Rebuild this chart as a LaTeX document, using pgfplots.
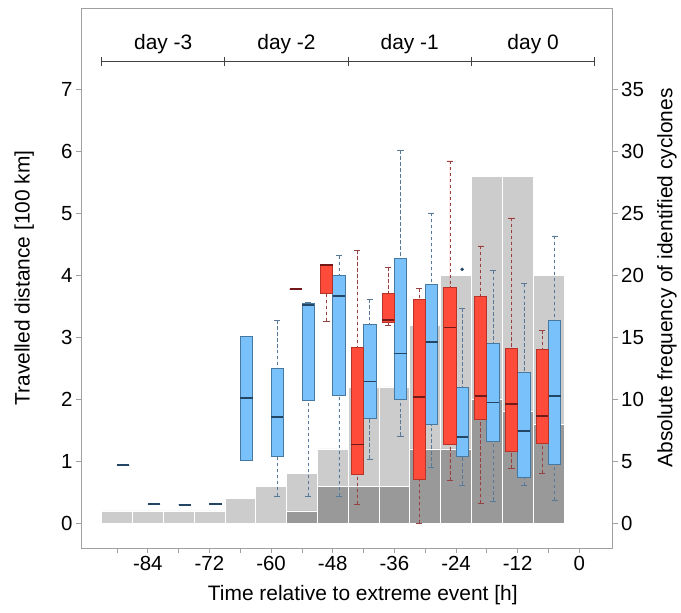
\documentclass[border=0pt]{standalone}
\usepackage{pgfplots}
\pgfplotsset{compat=1.18}
\usepgfplotslibrary{statistics}
\usepackage{fontspec}
\setmainfont{Liberation Sans}

\definecolor{redF}{RGB}{255,75,58}
\definecolor{redE}{RGB}{185,50,40}
\definecolor{redM}{RGB}{115,25,25}
\definecolor{redW}{RGB}{150,65,65}
\definecolor{blueF}{RGB}{120,193,250}
\definecolor{blueE}{RGB}{70,120,160}
\definecolor{blueM}{RGB}{35,70,100}
\definecolor{blueW}{RGB}{90,120,150}
\definecolor{histL}{RGB}{204,204,204}
\definecolor{histD}{RGB}{153,153,153}
\definecolor{frameC}{RGB}{160,160,160}

\pgfplotsset{
  base/.style={
    width=531.7bp, height=540bp, scale only axis,
    xmin=-97, xmax=6.5,
    axis line style={frameC, line width=0.7pt},
    tick style={frameC, line width=0.7pt},
    major tick length=5bp, minor tick length=5bp,
    tick align=outside,
    ticklabel style={font=\fontsize{20.5}{24}\selectfont},
    label style={font=\fontsize{21}{24}\selectfont},
    /pgf/number format/assume math mode=true,
  },
  boxplot/draw/lower whisker/.code={%
    \draw[/pgfplots/boxplot/every whisker/.try]
      (boxplot box cs:\pgfplotsboxplotvalue{lower whisker},0.5) --
      (boxplot box cs:\pgfplotsboxplotvalue{lower quartile},0.5);
    \draw[/pgfplots/boxplot/every whisker/.try, solid]
      (boxplot whisker cs:\pgfplotsboxplotvalue{lower whisker},0) --
      (boxplot whisker cs:\pgfplotsboxplotvalue{lower whisker},1);
  },
  boxplot/draw/upper whisker/.code={%
    \draw[/pgfplots/boxplot/every whisker/.try]
      (boxplot box cs:\pgfplotsboxplotvalue{upper whisker},0.5) --
      (boxplot box cs:\pgfplotsboxplotvalue{upper quartile},0.5);
    \draw[/pgfplots/boxplot/every whisker/.try, solid]
      (boxplot whisker cs:\pgfplotsboxplotvalue{upper whisker},0) --
      (boxplot whisker cs:\pgfplotsboxplotvalue{upper whisker},1);
  },
  rbox/.style={draw=redE, fill=redF, line width=0.7pt,
    boxplot/draw direction=y, boxplot/box extend=2.4, boxplot/whisker extend=1.2,
    boxplot/every whisker/.style={draw=redW, dash pattern=on 3.5pt off 2.5pt, line width=0.6pt},
    boxplot/every median/.style={draw=redM, line width=1.8pt}},
  bbox/.style={draw=blueE, fill=blueF, line width=0.7pt,
    boxplot/draw direction=y, boxplot/box extend=2.4, boxplot/whisker extend=1.2,
    boxplot/every whisker/.style={draw=blueW, dash pattern=on 3.5pt off 2.5pt, line width=0.6pt},
    boxplot/every median/.style={draw=blueM, line width=1.8pt}},
}

\begin{document}
\begin{tikzpicture}
% histogram of cyclone counts (right axis)
\begin{axis}[base, name=ax,
  ymin=-2, ymax=41.6,
  ytick={0,5,...,35},
  ytick pos=right, yticklabel pos=right,
  ylabel={Absolute frequency of identified cyclones},
  ylabel style={font=\fontsize{21}{24}\selectfont, at={(axis description cs:1.102,0.5)}, anchor=center, rotate=0},
  xtick={-84,-72,...,0}, minor xtick={-90,-78,...,-6},
  xtick pos=bottom,
  xlabel={Time relative to extreme event [h]},
  xlabel style={at={(axis description cs:0.53,-0.087)}, anchor=center},
]
\addplot[ybar, bar width=6, bar shift=0, fill=histL, draw=white, line width=0.6pt] coordinates {
  (-90,1)(-84,1)(-78,1)(-72,1)(-66,2)(-60,3)(-54,4)(-48,6)
  (-42,11)(-36,11)(-30,16)(-24,20)(-18,28)(-12,28)(-6,20)};
\addplot[ybar, bar width=6, bar shift=0, fill=histD, draw=white, line width=0.6pt] coordinates {
  (-54,1)(-48,3)(-42,3)(-36,3)(-30,6)(-24,6)(-18,10)(-12,9)(-6,8)};
\end{axis}

% travelled distance box plots (left axis)
\begin{axis}[base,
  ymin=-0.4, ymax=8.32,
  ytick={0,...,7}, ytick pos=left,
  xtick=\empty,
  ylabel={Travelled distance [100 km]},
  ylabel style={at={(axis description cs:-0.107,0.5)}, anchor=center},
  clip=false,
]
% blue
\addplot[bbox, boxplot prepared={draw position=-88.8, lower whisker=0.94, lower quartile=0.94, median=0.94, upper quartile=0.94, upper whisker=0.94}] coordinates {};
\addplot[bbox, boxplot prepared={draw position=-82.8, lower whisker=0.31, lower quartile=0.31, median=0.31, upper quartile=0.31, upper whisker=0.31}] coordinates {};
\addplot[bbox, boxplot prepared={draw position=-76.8, lower whisker=0.30, lower quartile=0.30, median=0.30, upper quartile=0.30, upper whisker=0.30}] coordinates {};
\addplot[bbox, boxplot prepared={draw position=-70.8, lower whisker=0.31, lower quartile=0.31, median=0.31, upper quartile=0.31, upper whisker=0.31}] coordinates {};
\addplot[bbox, boxplot prepared={draw position=-64.8, lower whisker=1.02, lower quartile=1.02, median=2.02, upper quartile=3.02, upper whisker=3.02}] coordinates {};
\addplot[bbox, boxplot prepared={draw position=-58.8, lower whisker=0.44, lower quartile=1.08, median=1.72, upper quartile=2.50, upper whisker=3.28}] coordinates {};
\addplot[bbox, boxplot prepared={draw position=-52.8, lower whisker=0.44, lower quartile=1.99, median=3.52, upper quartile=3.55, upper whisker=3.56}] coordinates {};
\addplot[bbox, boxplot prepared={draw position=-46.8, lower whisker=0.44, lower quartile=2.06, median=3.67, upper quartile=4.00, upper whisker=4.32}] coordinates {};
\addplot[bbox, boxplot prepared={draw position=-40.8, lower whisker=1.04, lower quartile=1.69, median=2.29, upper quartile=3.21, upper whisker=3.62}] coordinates {};
\addplot[bbox, boxplot prepared={draw position=-34.8, lower whisker=1.41, lower quartile=2.00, median=2.74, upper quartile=4.28, upper whisker=6.02}] coordinates {};
\addplot[bbox, boxplot prepared={draw position=-28.8, lower whisker=0.91, lower quartile=1.59, median=2.93, upper quartile=3.85, upper whisker=5.01}] coordinates {};
\addplot[bbox, boxplot prepared={draw position=-22.8, lower whisker=0.62, lower quartile=1.08, median=1.39, upper quartile=2.19, upper whisker=3.47}] coordinates {};
\addplot[bbox, boxplot prepared={draw position=-16.8, lower whisker=0.36, lower quartile=1.33, median=1.95, upper quartile=2.91, upper whisker=4.08}] coordinates {};
\addplot[bbox, boxplot prepared={draw position=-10.8, lower whisker=0.61, lower quartile=0.74, median=1.49, upper quartile=2.44, upper whisker=3.87}] coordinates {};
\addplot[bbox, boxplot prepared={draw position=-4.8, lower whisker=0.37, lower quartile=0.95, median=2.05, upper quartile=3.28, upper whisker=4.64}] coordinates {};
\addplot[only marks, mark=*, mark size=1.6pt, blueM] coordinates {(-22.8,4.10)};
% red
\addplot[rbox, boxplot prepared={draw position=-55.2, lower whisker=3.78, lower quartile=3.78, median=3.78, upper quartile=3.78, upper whisker=3.78}] coordinates {};
\addplot[rbox, boxplot prepared={draw position=-49.2, lower whisker=3.26, lower quartile=3.71, median=4.17, upper quartile=4.17, upper whisker=4.18}] coordinates {};
\addplot[rbox, boxplot prepared={draw position=-43.2, lower whisker=0.31, lower quartile=0.79, median=1.27, upper quartile=2.84, upper whisker=4.41}] coordinates {};
\addplot[rbox, boxplot prepared={draw position=-37.2, lower whisker=3.20, lower quartile=3.24, median=3.28, upper quartile=3.71, upper whisker=4.13}] coordinates {};
\addplot[rbox, boxplot prepared={draw position=-31.2, lower whisker=0.00, lower quartile=0.71, median=2.04, upper quartile=3.62, upper whisker=3.79}] coordinates {};
\addplot[rbox, boxplot prepared={draw position=-25.2, lower whisker=0.69, lower quartile=1.28, median=3.16, upper quartile=3.81, upper whisker=5.85}] coordinates {};
\addplot[rbox, boxplot prepared={draw position=-19.2, lower whisker=0.32, lower quartile=1.68, median=2.06, upper quartile=3.66, upper whisker=4.48}] coordinates {};
\addplot[rbox, boxplot prepared={draw position=-13.2, lower whisker=0.88, lower quartile=1.16, median=1.92, upper quartile=2.82, upper whisker=4.93}] coordinates {};
\addplot[rbox, boxplot prepared={draw position=-7.2, lower whisker=0.81, lower quartile=1.29, median=1.73, upper quartile=2.81, upper whisker=3.12}] coordinates {};
% day bar
\draw[black!75, line width=1.1pt] (axis cs:-93,7.46) -- (axis cs:3,7.46);
\draw[black!75, line width=1.1pt] (axis cs:-93,7.39) -- (axis cs:-93,7.53);
\draw[black!75, line width=1.1pt] (axis cs:-69,7.39) -- (axis cs:-69,7.53);
\draw[black!75, line width=1.1pt] (axis cs:-45,7.39) -- (axis cs:-45,7.53);
\draw[black!75, line width=1.1pt] (axis cs:-21,7.39) -- (axis cs:-21,7.53);
\draw[black!75, line width=1.1pt] (axis cs:3,7.39) -- (axis cs:3,7.53);
\node[font=\fontsize{21}{24}\selectfont] at (axis cs:-81,7.74) {day -3};
\node[font=\fontsize{21}{24}\selectfont] at (axis cs:-57,7.74) {day -2};
\node[font=\fontsize{21}{24}\selectfont] at (axis cs:-33,7.74) {day -1};
\node[font=\fontsize{21}{24}\selectfont] at (axis cs:-9,7.74) {day 0};
\end{axis}
\pgfresetboundingbox
\path[use as bounding box] ([xshift=-81bp,yshift=-64bp]ax.south west) rectangle ([xshift=68.3bp,yshift=8bp]ax.north east);
\end{tikzpicture}
\end{document}
